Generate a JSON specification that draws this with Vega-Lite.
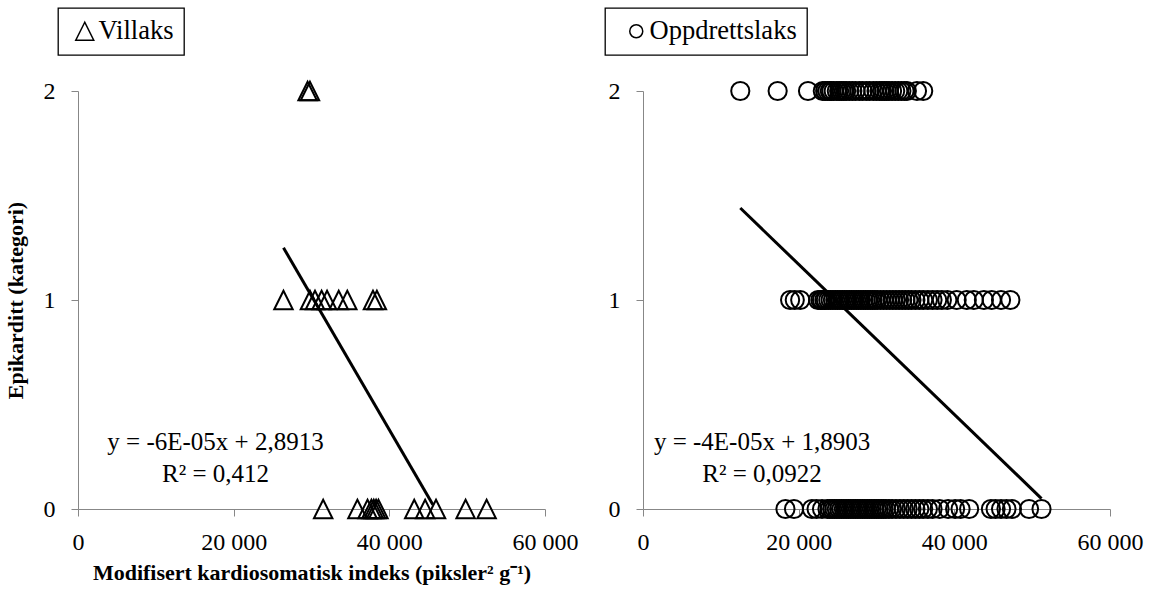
{
  "$schema": "https://vega.github.io/schema/vega-lite/v6.json",
  "background": "white",
  "padding": {"left": 4, "top": 7, "right": 5, "bottom": 5},
  "config": {
    "view": {"stroke": null},
    "font": "Liberation Serif",
    "axis": {
      "domainColor": "#878787", "tickColor": "#878787", "domainWidth": 1, "tickWidth": 1, "tickSize": 7,
      "labelColor": "black", "labelFont": "Liberation Serif", "labelFontSize": 24, "labelOverlap": false,
      "titleColor": "black", "titleFont": "Liberation Serif", "titleFontSize": 22, "titleFontWeight": "bold",
      "grid": false
    },
    "legend": {
      "orient": "none", "title": null, "padding": 10, "strokeColor": "black", "strokeWidth": 1.3, "fillColor": "white",
      "labelFont": "Liberation Serif", "labelFontSize": 26.5, "labelColor": "black",
      "symbolStrokeColor": "black", "symbolFillColor": "white", "symbolStrokeWidth": 1.5
    }
  },
  "datasets": {
    "vill": [
      {"gruppe": "Villaks", "x": 29500, "y": 2}, {"gruppe": "Villaks", "x": 29800, "y": 2},
      {"gruppe": "Villaks", "x": 26400, "y": 1}, {"gruppe": "Villaks", "x": 29800, "y": 1}, {"gruppe": "Villaks", "x": 30450, "y": 1},
      {"gruppe": "Villaks", "x": 31300, "y": 1}, {"gruppe": "Villaks", "x": 32000, "y": 1}, {"gruppe": "Villaks", "x": 33500, "y": 1},
      {"gruppe": "Villaks", "x": 34600, "y": 1}, {"gruppe": "Villaks", "x": 37900, "y": 1}, {"gruppe": "Villaks", "x": 38400, "y": 1},
      {"gruppe": "Villaks", "x": 31500, "y": 0}, {"gruppe": "Villaks", "x": 35900, "y": 0}, {"gruppe": "Villaks", "x": 37200, "y": 0},
      {"gruppe": "Villaks", "x": 37700, "y": 0}, {"gruppe": "Villaks", "x": 38000, "y": 0}, {"gruppe": "Villaks", "x": 38300, "y": 0},
      {"gruppe": "Villaks", "x": 38600, "y": 0}, {"gruppe": "Villaks", "x": 43200, "y": 0}, {"gruppe": "Villaks", "x": 44600, "y": 0},
      {"gruppe": "Villaks", "x": 46000, "y": 0}, {"gruppe": "Villaks", "x": 49800, "y": 0}, {"gruppe": "Villaks", "x": 52500, "y": 0}
    ],
    "oppdrett": [
      {"gruppe": "Oppdrettslaks", "x": 12500, "y": 2}, {"gruppe": "Oppdrettslaks", "x": 17300, "y": 2}, {"gruppe": "Oppdrettslaks", "x": 21200, "y": 2},
      {"gruppe": "Oppdrettslaks", "x": 23100, "y": 2}, {"gruppe": "Oppdrettslaks", "x": 23400, "y": 2}, {"gruppe": "Oppdrettslaks", "x": 23700, "y": 2},
      {"gruppe": "Oppdrettslaks", "x": 24000, "y": 2}, {"gruppe": "Oppdrettslaks", "x": 24200, "y": 2}, {"gruppe": "Oppdrettslaks", "x": 24500, "y": 2},
      {"gruppe": "Oppdrettslaks", "x": 24900, "y": 2}, {"gruppe": "Oppdrettslaks", "x": 25200, "y": 2}, {"gruppe": "Oppdrettslaks", "x": 25500, "y": 2},
      {"gruppe": "Oppdrettslaks", "x": 25800, "y": 2}, {"gruppe": "Oppdrettslaks", "x": 26100, "y": 2}, {"gruppe": "Oppdrettslaks", "x": 26500, "y": 2},
      {"gruppe": "Oppdrettslaks", "x": 26900, "y": 2}, {"gruppe": "Oppdrettslaks", "x": 27300, "y": 2}, {"gruppe": "Oppdrettslaks", "x": 27800, "y": 2},
      {"gruppe": "Oppdrettslaks", "x": 28200, "y": 2}, {"gruppe": "Oppdrettslaks", "x": 28700, "y": 2}, {"gruppe": "Oppdrettslaks", "x": 29100, "y": 2},
      {"gruppe": "Oppdrettslaks", "x": 29600, "y": 2}, {"gruppe": "Oppdrettslaks", "x": 30000, "y": 2}, {"gruppe": "Oppdrettslaks", "x": 30400, "y": 2},
      {"gruppe": "Oppdrettslaks", "x": 30700, "y": 2}, {"gruppe": "Oppdrettslaks", "x": 31000, "y": 2}, {"gruppe": "Oppdrettslaks", "x": 31300, "y": 2},
      {"gruppe": "Oppdrettslaks", "x": 31600, "y": 2}, {"gruppe": "Oppdrettslaks", "x": 32000, "y": 2}, {"gruppe": "Oppdrettslaks", "x": 32400, "y": 2},
      {"gruppe": "Oppdrettslaks", "x": 32800, "y": 2}, {"gruppe": "Oppdrettslaks", "x": 33200, "y": 2}, {"gruppe": "Oppdrettslaks", "x": 33600, "y": 2},
      {"gruppe": "Oppdrettslaks", "x": 33900, "y": 2}, {"gruppe": "Oppdrettslaks", "x": 35200, "y": 2}, {"gruppe": "Oppdrettslaks", "x": 36000, "y": 2},
      {"gruppe": "Oppdrettslaks", "x": 18900, "y": 1}, {"gruppe": "Oppdrettslaks", "x": 19500, "y": 1}, {"gruppe": "Oppdrettslaks", "x": 20200, "y": 1},
      {"gruppe": "Oppdrettslaks", "x": 22500, "y": 1}, {"gruppe": "Oppdrettslaks", "x": 22800, "y": 1}, {"gruppe": "Oppdrettslaks", "x": 23000, "y": 1},
      {"gruppe": "Oppdrettslaks", "x": 23300, "y": 1}, {"gruppe": "Oppdrettslaks", "x": 23500, "y": 1}, {"gruppe": "Oppdrettslaks", "x": 23800, "y": 1},
      {"gruppe": "Oppdrettslaks", "x": 24100, "y": 1}, {"gruppe": "Oppdrettslaks", "x": 24400, "y": 1}, {"gruppe": "Oppdrettslaks", "x": 24700, "y": 1},
      {"gruppe": "Oppdrettslaks", "x": 25000, "y": 1}, {"gruppe": "Oppdrettslaks", "x": 25300, "y": 1}, {"gruppe": "Oppdrettslaks", "x": 25600, "y": 1},
      {"gruppe": "Oppdrettslaks", "x": 25900, "y": 1}, {"gruppe": "Oppdrettslaks", "x": 26200, "y": 1}, {"gruppe": "Oppdrettslaks", "x": 26500, "y": 1},
      {"gruppe": "Oppdrettslaks", "x": 26800, "y": 1}, {"gruppe": "Oppdrettslaks", "x": 27100, "y": 1}, {"gruppe": "Oppdrettslaks", "x": 27400, "y": 1},
      {"gruppe": "Oppdrettslaks", "x": 27700, "y": 1}, {"gruppe": "Oppdrettslaks", "x": 28000, "y": 1}, {"gruppe": "Oppdrettslaks", "x": 28300, "y": 1},
      {"gruppe": "Oppdrettslaks", "x": 28600, "y": 1}, {"gruppe": "Oppdrettslaks", "x": 28900, "y": 1}, {"gruppe": "Oppdrettslaks", "x": 29200, "y": 1},
      {"gruppe": "Oppdrettslaks", "x": 29500, "y": 1}, {"gruppe": "Oppdrettslaks", "x": 29800, "y": 1}, {"gruppe": "Oppdrettslaks", "x": 30100, "y": 1},
      {"gruppe": "Oppdrettslaks", "x": 30500, "y": 1}, {"gruppe": "Oppdrettslaks", "x": 30900, "y": 1}, {"gruppe": "Oppdrettslaks", "x": 31300, "y": 1},
      {"gruppe": "Oppdrettslaks", "x": 31700, "y": 1}, {"gruppe": "Oppdrettslaks", "x": 32100, "y": 1}, {"gruppe": "Oppdrettslaks", "x": 32500, "y": 1},
      {"gruppe": "Oppdrettslaks", "x": 32900, "y": 1}, {"gruppe": "Oppdrettslaks", "x": 33300, "y": 1}, {"gruppe": "Oppdrettslaks", "x": 33700, "y": 1},
      {"gruppe": "Oppdrettslaks", "x": 34100, "y": 1}, {"gruppe": "Oppdrettslaks", "x": 34500, "y": 1}, {"gruppe": "Oppdrettslaks", "x": 35000, "y": 1},
      {"gruppe": "Oppdrettslaks", "x": 35500, "y": 1}, {"gruppe": "Oppdrettslaks", "x": 36000, "y": 1}, {"gruppe": "Oppdrettslaks", "x": 36600, "y": 1},
      {"gruppe": "Oppdrettslaks", "x": 37200, "y": 1}, {"gruppe": "Oppdrettslaks", "x": 37800, "y": 1}, {"gruppe": "Oppdrettslaks", "x": 38400, "y": 1},
      {"gruppe": "Oppdrettslaks", "x": 39100, "y": 1}, {"gruppe": "Oppdrettslaks", "x": 40300, "y": 1}, {"gruppe": "Oppdrettslaks", "x": 41600, "y": 1},
      {"gruppe": "Oppdrettslaks", "x": 42500, "y": 1}, {"gruppe": "Oppdrettslaks", "x": 43800, "y": 1}, {"gruppe": "Oppdrettslaks", "x": 44800, "y": 1},
      {"gruppe": "Oppdrettslaks", "x": 46000, "y": 1}, {"gruppe": "Oppdrettslaks", "x": 47200, "y": 1},
      {"gruppe": "Oppdrettslaks", "x": 18300, "y": 0}, {"gruppe": "Oppdrettslaks", "x": 19400, "y": 0}, {"gruppe": "Oppdrettslaks", "x": 21700, "y": 0},
      {"gruppe": "Oppdrettslaks", "x": 22300, "y": 0}, {"gruppe": "Oppdrettslaks", "x": 23000, "y": 0}, {"gruppe": "Oppdrettslaks", "x": 23700, "y": 0},
      {"gruppe": "Oppdrettslaks", "x": 24000, "y": 0}, {"gruppe": "Oppdrettslaks", "x": 24300, "y": 0}, {"gruppe": "Oppdrettslaks", "x": 24600, "y": 0},
      {"gruppe": "Oppdrettslaks", "x": 24900, "y": 0}, {"gruppe": "Oppdrettslaks", "x": 25200, "y": 0}, {"gruppe": "Oppdrettslaks", "x": 25500, "y": 0},
      {"gruppe": "Oppdrettslaks", "x": 25800, "y": 0}, {"gruppe": "Oppdrettslaks", "x": 26100, "y": 0}, {"gruppe": "Oppdrettslaks", "x": 26400, "y": 0},
      {"gruppe": "Oppdrettslaks", "x": 26700, "y": 0}, {"gruppe": "Oppdrettslaks", "x": 27000, "y": 0}, {"gruppe": "Oppdrettslaks", "x": 27300, "y": 0},
      {"gruppe": "Oppdrettslaks", "x": 27600, "y": 0}, {"gruppe": "Oppdrettslaks", "x": 27900, "y": 0}, {"gruppe": "Oppdrettslaks", "x": 28200, "y": 0},
      {"gruppe": "Oppdrettslaks", "x": 28500, "y": 0}, {"gruppe": "Oppdrettslaks", "x": 28800, "y": 0}, {"gruppe": "Oppdrettslaks", "x": 29100, "y": 0},
      {"gruppe": "Oppdrettslaks", "x": 29400, "y": 0}, {"gruppe": "Oppdrettslaks", "x": 29700, "y": 0}, {"gruppe": "Oppdrettslaks", "x": 30000, "y": 0},
      {"gruppe": "Oppdrettslaks", "x": 30300, "y": 0}, {"gruppe": "Oppdrettslaks", "x": 30600, "y": 0}, {"gruppe": "Oppdrettslaks", "x": 30900, "y": 0},
      {"gruppe": "Oppdrettslaks", "x": 31200, "y": 0}, {"gruppe": "Oppdrettslaks", "x": 31600, "y": 0}, {"gruppe": "Oppdrettslaks", "x": 32000, "y": 0},
      {"gruppe": "Oppdrettslaks", "x": 32500, "y": 0}, {"gruppe": "Oppdrettslaks", "x": 33000, "y": 0}, {"gruppe": "Oppdrettslaks", "x": 33500, "y": 0},
      {"gruppe": "Oppdrettslaks", "x": 34000, "y": 0}, {"gruppe": "Oppdrettslaks", "x": 34500, "y": 0}, {"gruppe": "Oppdrettslaks", "x": 35000, "y": 0},
      {"gruppe": "Oppdrettslaks", "x": 35500, "y": 0}, {"gruppe": "Oppdrettslaks", "x": 36000, "y": 0}, {"gruppe": "Oppdrettslaks", "x": 36600, "y": 0},
      {"gruppe": "Oppdrettslaks", "x": 37200, "y": 0}, {"gruppe": "Oppdrettslaks", "x": 38100, "y": 0}, {"gruppe": "Oppdrettslaks", "x": 39200, "y": 0},
      {"gruppe": "Oppdrettslaks", "x": 40100, "y": 0}, {"gruppe": "Oppdrettslaks", "x": 40800, "y": 0}, {"gruppe": "Oppdrettslaks", "x": 41900, "y": 0},
      {"gruppe": "Oppdrettslaks", "x": 44700, "y": 0}, {"gruppe": "Oppdrettslaks", "x": 45300, "y": 0}, {"gruppe": "Oppdrettslaks", "x": 46000, "y": 0},
      {"gruppe": "Oppdrettslaks", "x": 46700, "y": 0}, {"gruppe": "Oppdrettslaks", "x": 47400, "y": 0}, {"gruppe": "Oppdrettslaks", "x": 49600, "y": 0},
      {"gruppe": "Oppdrettslaks", "x": 51200, "y": 0}
    ],
    "vill_line": [{"x": 26400, "y": 1.25}, {"x": 45600, "y": 0.02}],
    "opp_line": [{"x": 12500, "y": 1.44}, {"x": 51200, "y": 0.05}],
    "vill_txt": [
      {"x": 17670, "y": 0.3206, "t": "y = -6E-05x + 2,8913"},
      {"x": 17670, "y": 0.1675, "t": "R² = 0,412"}
    ],
    "opp_txt": [
      {"x": 15300, "y": 0.3206, "t": "y = -4E-05x + 1,8903"},
      {"x": 15300, "y": 0.1675, "t": "R² = 0,0922"}
    ]
  },
  "spacing": 98,
  "bounds": "flush",
  "resolve": {"scale": {"shape": "independent", "x": "independent", "y": "independent"}, "legend": {"shape": "independent"}},
  "hconcat": [
    {
      "width": 467, "height": 418,
      "layer": [
        {
          "data": {"name": "vill"},
          "mark": {"type": "point", "filled": false, "color": "black", "strokeWidth": 2, "size": 340, "opacity": 1},
          "encoding": {
            "x": {"field": "x", "type": "quantitative", "scale": {"domain": [0, 60000], "nice": false},
                  "axis": {"values": [0, 20000, 40000, 60000], "labelExpr": "replace(format(datum.value, ','), ',', ' ')", "title": "Modifisert kardiosomatisk indeks (piksler² g⁻¹)", "labelPadding": 14, "titlePadding": 8, "labelFlush": false}},
            "y": {"field": "y", "type": "quantitative", "scale": {"domain": [0, 2], "nice": false},
                  "axis": {"values": [0, 1, 2], "labelExpr": "format(datum.value, 'd')", "title": "Epikarditt (kategori)", "labelPadding": 16, "titlePadding": 16, "labelFlush": false}},
            "shape": {"field": "gruppe", "type": "nominal", "scale": {"domain": ["Villaks"], "range": ["M0,-1L-1,1L1,1Z"]},
                      "legend": {"legendX": -20, "legendY": -83, "symbolSize": 324, "symbolOffset": 3.5, "labelOffset": 0.5}}
          }
        },
        {
          "data": {"name": "vill_line"},
          "mark": {"type": "line", "color": "black", "strokeWidth": 3},
          "encoding": {"x": {"field": "x", "type": "quantitative"}, "y": {"field": "y", "type": "quantitative"}}
        },
        {
          "data": {"name": "vill_txt"},
          "mark": {"type": "text", "font": "Liberation Serif", "fontSize": 25, "color": "black", "align": "center", "baseline": "middle"},
          "encoding": {"x": {"field": "x", "type": "quantitative"}, "y": {"field": "y", "type": "quantitative"}, "text": {"field": "t"}}
        }
      ]
    },
    {
      "width": 467, "height": 418,
      "layer": [
        {
          "data": {"name": "oppdrett"},
          "mark": {"type": "point", "filled": false, "color": "black", "strokeWidth": 2, "size": 330, "opacity": 1},
          "encoding": {
            "x": {"field": "x", "type": "quantitative", "scale": {"domain": [0, 60000], "nice": false},
                  "axis": {"values": [0, 20000, 40000, 60000], "labelExpr": "replace(format(datum.value, ','), ',', ' ')", "title": null, "labelPadding": 14, "labelFlush": false}},
            "y": {"field": "y", "type": "quantitative", "scale": {"domain": [0, 2], "nice": false},
                  "axis": {"values": [0, 1, 2], "labelExpr": "format(datum.value, 'd')", "title": null, "labelPadding": 16, "labelFlush": false}},
            "shape": {"field": "gruppe", "type": "nominal", "scale": {"domain": ["Oppdrettslaks"], "range": ["circle"]},
                      "legend": {"legendX": -38, "legendY": -83, "symbolSize": 169, "symbolOffset": 8, "labelOffset": 0}}
          }
        },
        {
          "data": {"name": "opp_line"},
          "mark": {"type": "line", "color": "black", "strokeWidth": 3},
          "encoding": {"x": {"field": "x", "type": "quantitative"}, "y": {"field": "y", "type": "quantitative"}}
        },
        {
          "data": {"name": "opp_txt"},
          "mark": {"type": "text", "font": "Liberation Serif", "fontSize": 25, "color": "black", "align": "center", "baseline": "middle"},
          "encoding": {"x": {"field": "x", "type": "quantitative"}, "y": {"field": "y", "type": "quantitative"}, "text": {"field": "t"}}
        }
      ]
    }
  ]
}
